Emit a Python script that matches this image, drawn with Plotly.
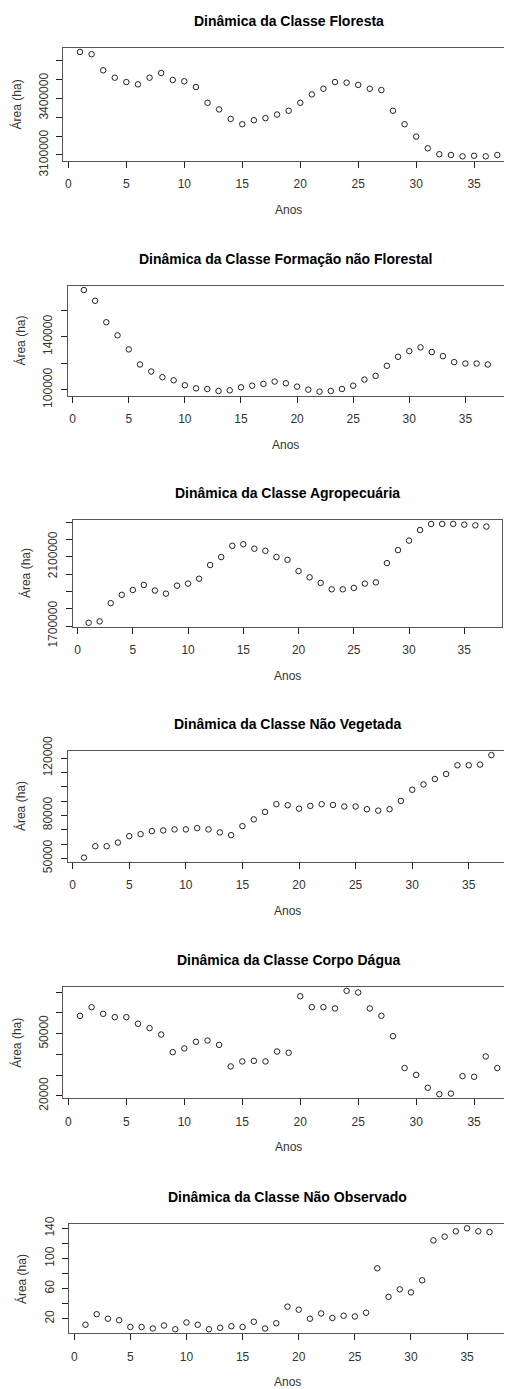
import plotly.graph_objects as go

PAGE_W, PAGE_H = 512, 1389
OFF = 8  # default body margin of the page holding the figure
W, H = PAGE_W - OFF, PAGE_H - OFF

anos = list(range(1, 38))

floresta = [3643000, 3631000, 3546000, 3507000, 3484000, 3472000, 3507000, 3532000, 3495000, 3488000,
            3458000, 3375000, 3340000, 3290000, 3262000, 3283000, 3294000, 3313000, 3333000, 3375000,
            3419000, 3449000, 3484000, 3481000, 3469000, 3449000, 3442000, 3333000, 3262000, 3197000,
            3135000, 3104000, 3100000, 3093000, 3096000, 3093000, 3100000]
form_nao_florestal = [175200, 167100, 150900, 141000, 130400, 119000, 113700, 109400, 107100, 103300,
                      101000, 100500, 99000, 99500, 101800, 103000, 104300, 106100, 104800, 102300,
                      100000, 98500, 99000, 100500, 103000, 107600, 110400, 118000, 124800, 129100,
                      131900, 128400, 125300, 120800, 119700, 119700, 119000]
agropecuaria = [1719000, 1727000, 1832000, 1880000, 1908000, 1937000, 1905000, 1887000, 1933000, 1945000,
                1973000, 2052000, 2098000, 2163000, 2172000, 2146000, 2134000, 2098000, 2082000, 2017000,
                1981000, 1949000, 1912000, 1912000, 1920000, 1945000, 1952000, 2063000, 2138000, 2193000,
                2254000, 2289000, 2289000, 2289000, 2285000, 2281000, 2274000]
nao_vegetada = [50500, 58450, 58450, 61000, 65500, 66900, 69000, 69500, 70200, 70200,
                71100, 70200, 68100, 66200, 72500, 77200, 82400, 87800, 87100, 84700,
                86600, 87800, 87300, 86200, 86200, 84300, 83300, 84300, 90100, 97900,
                101600, 105400, 108900, 115000, 115000, 115500, 122100]
corpo_dagua = [58650, 62800, 59600, 58000, 58000, 54800, 52700, 49600, 41100, 42900,
               46100, 46700, 44600, 34200, 36600, 36900, 36600, 41400, 40800, 68100,
               62800, 62800, 62200, 70700, 69900, 62200, 58650, 48800, 33400, 30100,
               23900, 20800, 21100, 29500, 29200, 39000, 33400]
nao_observado = [12, 26, 20, 18, 9, 9, 7, 11, 6, 15,
                 12, 6, 8, 10, 9, 16, 7, 14, 36, 32,
                 20, 27, 21, 24, 23, 28, 87, 49, 59, 55,
                 71, 124, 129, 136, 140, 136, 135]

titulos = ["Dinâmica da Classe Floresta",
           "Dinâmica da Classe Formação não Florestal",
           "Dinâmica da Classe Agropecuária",
           "Dinâmica da Classe Não Vegetada",
           "Dinâmica da Classe Corpo Dágua",
           "Dinâmica da Classe Não Observado"]
series = [floresta, form_nao_florestal, agropecuaria, nao_vegetada, corpo_dagua, nao_observado]

x_ticks = [0, 5, 10, 15, 20, 25, 30, 35]
y_ticks = [
    [3100000, 3200000, 3300000, 3400000, 3500000, 3600000],
    [100000, 120000, 140000, 160000],
    [1700000, 1800000, 1900000, 2000000, 2100000, 2200000, 2300000],
    [50000, 60000, 70000, 80000, 90000, 100000, 110000, 120000],
    [20000, 30000, 40000, 50000, 60000, 70000],
    [20, 40, 60, 80, 100, 120, 140],
]
y_labels = [
    ["3100000", "", "", "3400000", "", ""],
    ["100000", "", "140000", ""],
    ["1700000", "", "", "", "2100000", "", ""],
    ["50000", "", "", "80000", "", "", "", "120000"],
    ["20000", "", "", "50000", "", ""],
    ["20", "", "60", "", "100", "", "140"],
]

# plot boxes in page pixels: left, full right (may exceed the page), top, bottom
boxes = [
    (63.3, 514.0, 47.7, 160.5),
    (67.7, 504.0, 286.0, 395.7),
    (72.7, 502.3, 520.0, 626.7),
    (67.7, 507.7, 751.0, 861.7),
    (63.3, 514.0, 986.7, 1098.3),
    (69.3, 505.7, 1224.3, 1333.3),
]

FONT = "Liberation Sans, Arial, sans-serif"
TXT = "#333333"
LINE = "#555555"


def px_x(p):
    return (p - OFF) / W


def px_y(p):
    return 1 - (p - OFF) / H


fig = go.Figure()
annotations = []
layout_axes = {}

for i, (vals, title) in enumerate(zip(series, titulos)):
    n = i + 1
    xa = "xaxis" if n == 1 else f"xaxis{n}"
    ya = "yaxis" if n == 1 else f"yaxis{n}"
    xr = "x" if n == 1 else f"x{n}"
    yr = "y" if n == 1 else f"y{n}"
    left, right_full, top, bottom = boxes[i]
    right = min(right_full, PAGE_W)

    xmin, xmax = min(anos), max(anos)
    dx = 0.04 * (xmax - xmin)
    x0, x1 = xmin - dx, xmax + dx
    # clip range if the box extends past the page edge
    x1_vis = x0 + (x1 - x0) * (right - left) / (right_full - left)
    ymin, ymax = min(vals), max(vals)
    dy = 0.04 * (ymax - ymin)

    fig.add_trace(go.Scatter(
        x=anos, y=vals, mode="markers", xaxis=xr, yaxis=yr, showlegend=False,
        marker=dict(symbol="circle-open", size=5.5, color="#222222", line=dict(width=1, color="#222222")),
        cliponaxis=False,
    ))

    clipped = right_full > PAGE_W
    layout_axes[xa] = dict(
        domain=[px_x(left), min(1.0, px_x(right))], range=[x0, x1_vis], anchor=yr, automargin=False,
        showgrid=False, zeroline=False, showline=True, linecolor=LINE, linewidth=1,
        mirror=True, ticks="outside", ticklen=6, tickcolor="#222222", tickwidth=1,
        tickvals=x_ticks, ticktext=[str(v) for v in x_ticks],
        tickfont=dict(family=FONT, size=12, color=TXT), ticklabelstandoff=6,
    )
    layout_axes[ya] = dict(
        domain=[px_y(bottom), px_y(top)], range=[ymin - dy, ymax + dy], anchor=xr, automargin=False,
        showgrid=False, zeroline=False, showline=True, linecolor=LINE, linewidth=1,
        mirror=(not clipped), ticks="outside", ticklen=6, tickcolor="#222222", tickwidth=1,
        tickvals=y_ticks[i], ticktext=y_labels[i], tickangle=-90,
        tickfont=dict(family=FONT, size=12, color=TXT), ticklabelstandoff=4,
    )

    cx = px_x((left + right_full) / 2)
    annotations.append(dict(
        text=f"<b>{title}</b>", xref="paper", yref="paper", x=cx, y=px_y(top - 27),
        xanchor="center", yanchor="middle", showarrow=False,
        font=dict(family=FONT, size=14, color="#000000"),
    ))
    annotations.append(dict(
        text="Anos", xref="paper", yref="paper", x=cx, y=px_y(bottom + 49),
        xanchor="center", yanchor="middle", showarrow=False,
        font=dict(family=FONT, size=12, color=TXT),
    ))
    annotations.append(dict(
        text="Área (ha)", xref="paper", yref="paper", x=px_x(left - 47), y=px_y((top + bottom) / 2),
        xanchor="center", yanchor="middle", showarrow=False, textangle=-90,
        font=dict(family=FONT, size=12, color=TXT),
    ))

fig.update_layout(
    template="none",
    width=W, height=H, margin=dict(l=0, r=0, t=0, b=0, autoexpand=False),
    paper_bgcolor="white", plot_bgcolor="white",
    annotations=annotations, **layout_axes,
)

fig.write_html("out.html")
